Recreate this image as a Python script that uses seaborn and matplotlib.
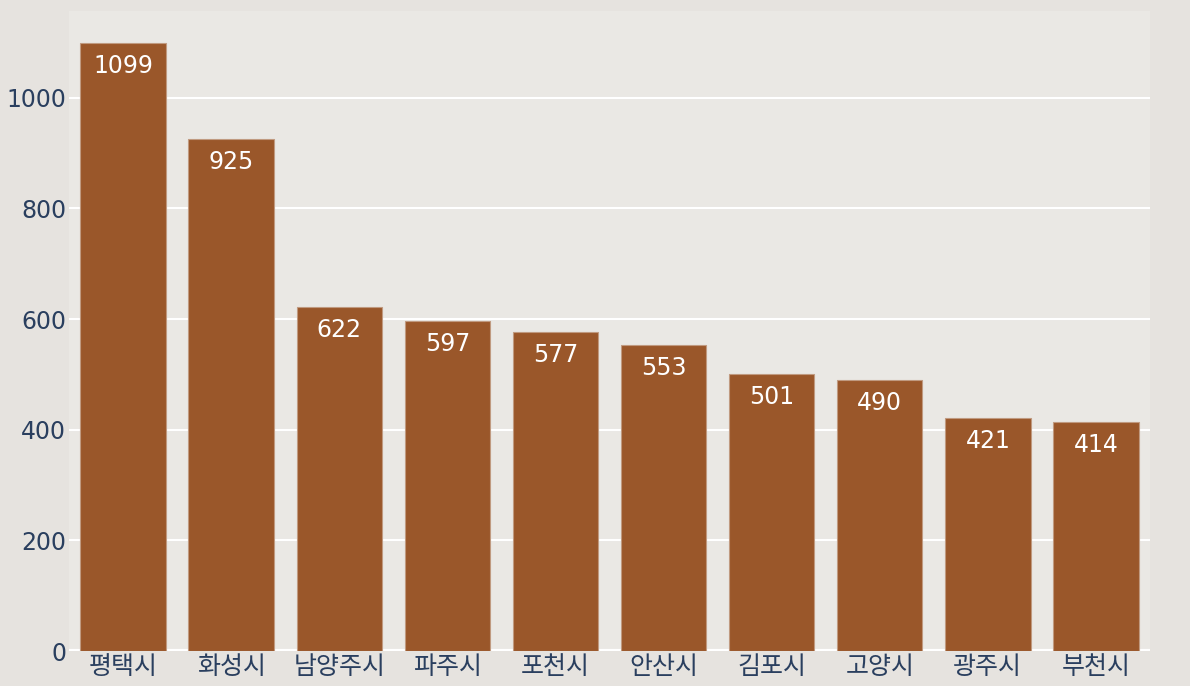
import pandas as pd
import seaborn as sns
from matplotlib import pyplot as plt

# city names and counts
cities = ['평택시', '화성시', '남양주시', '파주시', '포천시', '안산시', '김포시', '고양시', '광주시', '부천시']
counts = [1099, 925, 622, 597, 577, 553, 501, 490, 421, 414]

df = pd.DataFrame({'city': cities, 'count': counts})

sns.set_theme(style='whitegrid')
plt.rcParams['font.family'] = ['DejaVu Sans', 'Noto Sans CJK KR']

text_color = '#2a3f5f'
fig = plt.figure(figsize=(11.9, 6.86), dpi=100)
fig.patch.set_facecolor('#e6e3df')
ax = fig.add_axes([0.058, 0.051, 0.9084, 0.933])
ax.set_facecolor('#eae8e4')

sns.barplot(data=df, x='city', y='count', color='#9a572a', saturation=1,
            width=0.79, edgecolor='#c09a80', linewidth=0.8, ax=ax)

for i, v in enumerate(counts):
    ax.annotate(str(v), (i, v), xytext=(0, -8), textcoords='offset points',
                ha='center', va='top', color='white', fontsize=17)

ax.set_ylim(0, 1157)
ax.set_xlim(-0.5, len(cities) - 0.5)
ax.set_yticks([0, 200, 400, 600, 800, 1000])
ax.grid(axis='y', color='white', linewidth=1.5)
ax.grid(axis='x', visible=False)
ax.axhline(0, color='white', linewidth=3, zorder=0.5)
ax.set_axisbelow(True)
for s in ax.spines.values():
    s.set_visible(False)
ax.set_xlabel('')
ax.set_ylabel('')
ax.tick_params(axis='y', colors=text_color, labelsize=17, length=0, pad=2)
ax.tick_params(axis='x', colors=text_color, labelsize=17, length=0, pad=2)
for lbl in ax.get_xticklabels():
    lbl.set_family(['Noto Sans CJK KR', 'DejaVu Sans'])
    lbl.set_fontsize(18)

fig.savefig('out.png', dpi=100, facecolor=fig.get_facecolor())
